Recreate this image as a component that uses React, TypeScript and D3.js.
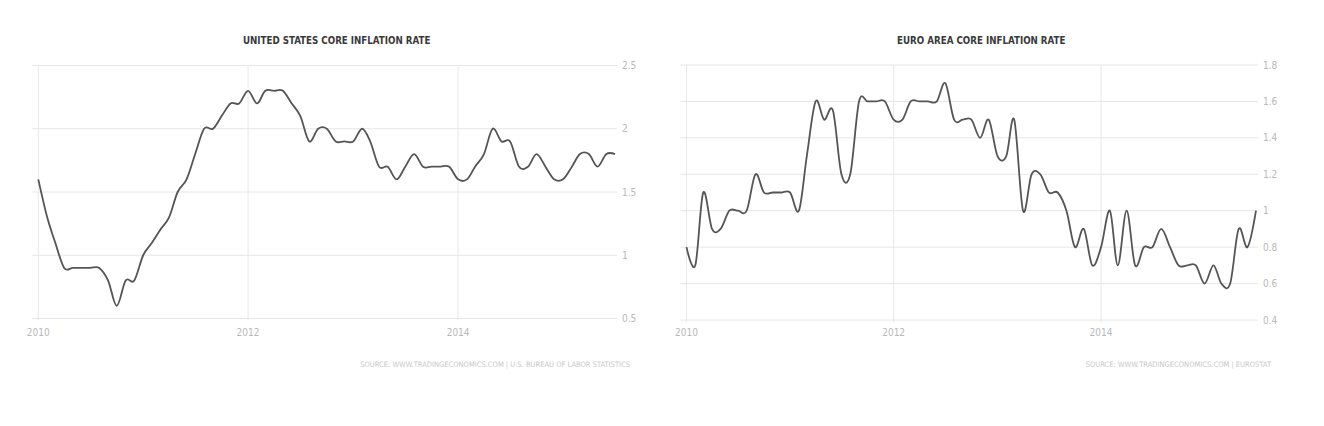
import React from "react";
import * as d3 from "d3";

// ---------- data ----------
const START_YEAR = 2010;
const xTickYears = [2010, 2012, 2014];

// United States core inflation rate, monthly Jan 2010 - Jul 2015 (%)
const usValues = [
  1.6, 1.3, 1.1, 0.9, 0.9, 0.9, 0.9, 0.9, 0.8, 0.6, 0.8, 0.8,
  1.0, 1.1, 1.2, 1.3, 1.5, 1.6, 1.8, 2.0, 2.0, 2.1, 2.2, 2.2,
  2.3, 2.2, 2.3, 2.3, 2.3, 2.2, 2.1, 1.9, 2.0, 2.0, 1.9, 1.9,
  1.9, 2.0, 1.9, 1.7, 1.7, 1.6, 1.7, 1.8, 1.7, 1.7, 1.7, 1.7,
  1.6, 1.6, 1.7, 1.8, 2.0, 1.9, 1.9, 1.7, 1.7, 1.8, 1.7, 1.6,
  1.6, 1.7, 1.8, 1.8, 1.7, 1.8, 1.8,
];
const usTicks = [0.5, 1, 1.5, 2, 2.5];

// Euro area core inflation rate, monthly Jan 2010 - Jul 2015 (%)
const euroValues = [
  0.8, 0.7, 1.1, 0.9, 0.9, 1.0, 1.0, 1.0, 1.2, 1.1, 1.1, 1.1,
  1.1, 1.0, 1.3, 1.6, 1.5, 1.55, 1.2, 1.2, 1.6, 1.6, 1.6, 1.6,
  1.5, 1.5, 1.6, 1.6, 1.6, 1.6, 1.7, 1.5, 1.5, 1.5, 1.4, 1.5,
  1.3, 1.3, 1.5, 1.0, 1.2, 1.2, 1.1, 1.1, 1.0, 0.8, 0.9, 0.7,
  0.8, 1.0, 0.7, 1.0, 0.7, 0.8, 0.8, 0.9, 0.8, 0.7, 0.7, 0.7,
  0.6, 0.7, 0.6, 0.6, 0.9, 0.8, 1.0,
];
const euroTicks = [0.4, 0.6, 0.8, 1, 1.2, 1.4, 1.6, 1.8];

const usTitle = "UNITED STATES CORE INFLATION RATE";
const euroTitle = "EURO AREA CORE INFLATION RATE";
const usSource = "SOURCE: WWW.TRADINGECONOMICS.COM | U.S. BUREAU OF LABOR STATISTICS";
const euroSource = "SOURCE: WWW.TRADINGECONOMICS.COM | EUROSTAT";

// ---------- drawing ----------
const NARROW = "'Liberation Sans Narrow', 'DejaVu Sans Condensed', 'Open Sans', sans-serif";

type PanelProps = {
  values: number[];
  ticks: number[];
  title: string;
  source: string;
  left: number;
  right: number;
  top: number;
  bottom: number;
};

function Panel({ values, ticks, title, source, left, right, top, bottom }: PanelProps) {
  const dates = values.map((_, i) => new Date(START_YEAR, i, 1));
  const x = d3
    .scaleTime()
    .domain([dates[0], dates[dates.length - 1]])
    .range([left, right]);
  const y = d3
    .scaleLinear()
    .domain([ticks[0], ticks[ticks.length - 1]])
    .range([bottom, top]);
  const line = d3
    .line<number>()
    .x((_, i) => x(dates[i]))
    .y((v) => y(v))
    .curve(d3.curveCardinal.tension(0));
  const cx = (left + right) / 2 + 10;
  return (
    <g>
      <text
        x={cx}
        y={43.5}
        textAnchor="middle"
        fontFamily={NARROW}
        fontWeight="bold"
        fontSize={9.7}
        fill="#3a3a3a"
      >
        {title}
      </text>
      {xTickYears.map((yr) => {
        const xx = x(new Date(yr, 0, 1));
        return (
          <g key={yr}>
            <line x1={xx} x2={xx} y1={top} y2={bottom + 2} stroke="#e8e8e8" strokeWidth={1} />
            <text
              x={xx}
              y={335.5}
              textAnchor="middle"
              fontFamily={NARROW}
              fontSize={10}
              fill="#b8b8b8"
            >
              {yr}
            </text>
          </g>
        );
      })}
      {ticks.map((t) => (
        <g key={t}>
          <line
            x1={left - 6}
            x2={right + 2}
            y1={y(t)}
            y2={y(t)}
            stroke="#e6e6e6"
            strokeWidth={1}
          />
          <text
            x={right + 7}
            y={y(t) + 3.5}
            fontFamily={NARROW}
            fontSize={10}
            fill="#b8b8b8"
          >
            {String(t)}
          </text>
        </g>
      ))}
      <path d={line(values) || ""} fill="none" stroke="#555" strokeWidth={1.8} strokeLinejoin="round" />
      <text
        x={right + 15}
        y={367}
        textAnchor="end"
        fontFamily={NARROW}
        fontSize={7.5}
        fill="#c8c8c8"
      >
        {source}
      </text>
    </g>
  );
}

export default function App() {
  return (
    <svg
      width={1324}
      height={426}
      style={{ position: "absolute", left: 0, top: 0, background: "#fff" }}
    >
      <rect x={0} y={0} width={1324} height={426} fill="#fff" />
      <Panel
        values={usValues}
        ticks={usTicks}
        title={usTitle}
        source={usSource}
        left={38.3}
        right={615}
        top={65.5}
        bottom={318.5}
      />
      <Panel
        values={euroValues}
        ticks={euroTicks}
        title={euroTitle}
        source={euroSource}
        left={686.5}
        right={1256}
        top={65}
        bottom={320}
      />
    </svg>
  );
}
